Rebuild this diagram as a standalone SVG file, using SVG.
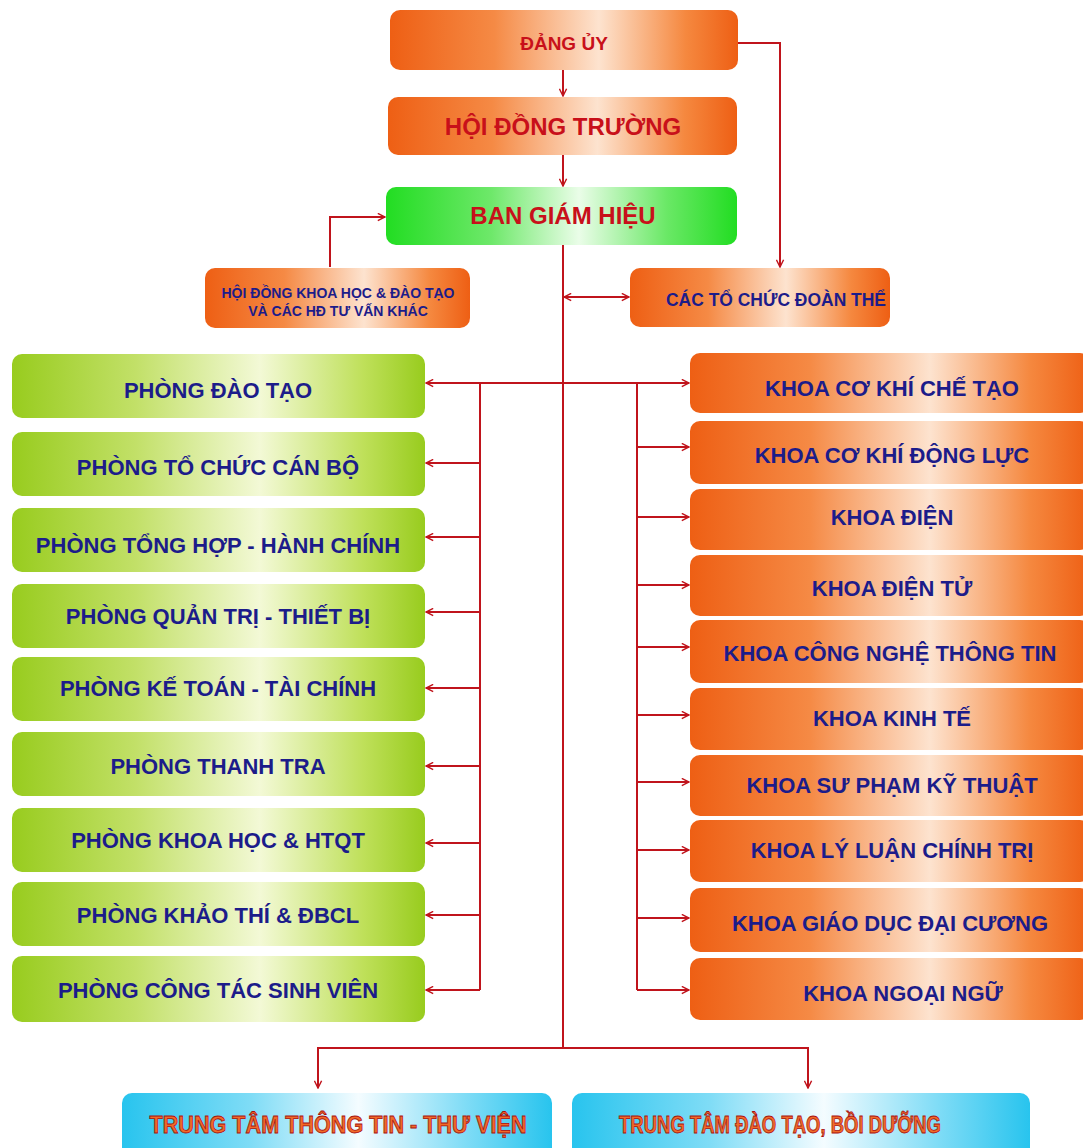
<svg xmlns="http://www.w3.org/2000/svg" width="1083" height="1148" viewBox="0 0 1083 1148">
<defs>
<linearGradient id="gO" x1="0" y1="0" x2="1" y2="0">
<stop offset="0" stop-color="#ee5f14"/><stop offset="0.3" stop-color="#f58a45"/><stop offset="0.6" stop-color="#fde3cf"/><stop offset="0.85" stop-color="#f5883f"/><stop offset="1" stop-color="#ee5f14"/>
</linearGradient>
<linearGradient id="gG" x1="0" y1="0" x2="1" y2="0">
<stop offset="0" stop-color="#98cc1e"/><stop offset="0.3" stop-color="#c2e068"/><stop offset="0.6" stop-color="#f3f9d6"/><stop offset="0.85" stop-color="#bfe05a"/><stop offset="1" stop-color="#98cc1e"/>
</linearGradient>
<linearGradient id="gB" x1="0" y1="0" x2="1" y2="0">
<stop offset="0" stop-color="#22dd22"/><stop offset="0.3" stop-color="#6ee86a"/><stop offset="0.55" stop-color="#eafde8"/><stop offset="0.8" stop-color="#6ae866"/><stop offset="1" stop-color="#22dd22"/>
</linearGradient>
<linearGradient id="gC" x1="0" y1="0" x2="1" y2="0">
<stop offset="0" stop-color="#28c4ee"/><stop offset="0.3" stop-color="#7fdcf6"/><stop offset="0.55" stop-color="#f4fcff"/><stop offset="0.8" stop-color="#7fdcf6"/><stop offset="1" stop-color="#28c4ee"/>
</linearGradient>
<marker id="ah" viewBox="0 0 10 10" refX="9" refY="5" markerWidth="9" markerHeight="9" markerUnits="userSpaceOnUse" orient="auto-start-reverse">
<path d="M1,1 L9,5 L1,9" fill="none" stroke="#c0141c" stroke-width="1.6"/>
</marker>
</defs>
<style>
.o{fill:url(#gO)}
.g{fill:url(#gG)}
.b{fill:url(#gB)}
.c{fill:url(#gC)}
rect{stroke:none}
text{font-family:"Liberation Sans",Arial,sans-serif;font-weight:bold;text-anchor:middle}
.t1{fill:#c8101a;font-size:24px}
.t2{fill:#1c1c8a;font-size:22px}
.t3{fill:#1c1c8a;font-size:14px}
.t4{fill:#f06a28;stroke:#a81010;stroke-width:0.8;font-size:24px}
.ln{fill:none;stroke:#c0141c;stroke-width:2}
.ar{marker-end:url(#ah)}
.ar2{marker-start:url(#ah);marker-end:url(#ah)}
</style>
<rect width="1083" height="1148" fill="#ffffff"/>

<g id="connectors">
<path class="ln ar" d="M563,70 V96"/>
<path class="ln ar" d="M563,155 V186"/>
<path class="ln ar" d="M738,43 H780 V267"/>
<path class="ln ar" d="M330,267 V217 H385"/>
<path class="ln" d="M563,245 V1048"/>
<path class="ln ar2" d="M564,297 H629"/>
<path class="ln ar" d="M563,383 H426"/>
<path class="ln ar" d="M563,383 H689"/>
<path class="ln" d="M480,383 V990"/>
<path class="ln ar" d="M480,463 H426"/>
<path class="ln ar" d="M480,537 H426"/>
<path class="ln ar" d="M480,612 H426"/>
<path class="ln ar" d="M480,688 H426"/>
<path class="ln ar" d="M480,766 H426"/>
<path class="ln ar" d="M480,843 H426"/>
<path class="ln ar" d="M480,915 H426"/>
<path class="ln ar" d="M480,990 H426"/>
<path class="ln" d="M637,383 V990"/>
<path class="ln ar" d="M637,447 H689"/>
<path class="ln ar" d="M637,517 H689"/>
<path class="ln ar" d="M637,585 H689"/>
<path class="ln ar" d="M637,647 H689"/>
<path class="ln ar" d="M637,715 H689"/>
<path class="ln ar" d="M637,782 H689"/>
<path class="ln ar" d="M637,850 H689"/>
<path class="ln ar" d="M637,918 H689"/>
<path class="ln ar" d="M637,990 H689"/>
<path class="ln ar" d="M563,1048 H318 V1088"/>
<path class="ln ar" d="M563,1048 H808 V1088"/>
</g>

<g id="dang-uy"><rect class="o" x="390" y="10" width="348" height="60" rx="10"/><text class="t1" x="564" y="50" style="font-size:19px">ĐẢNG ỦY</text></g>
<g id="hoi-dong-truong"><rect class="o" x="388" y="97" width="349" height="58" rx="10"/><text class="t1" x="563" y="135">HỘI ĐỒNG TRƯỜNG</text></g>
<g id="ban-giam-hieu"><rect class="b" x="386" y="187" width="351" height="58" rx="10"/><text class="t1" x="563" y="224">BAN GIÁM HIỆU</text></g>
<g id="hoi-dong-khoa-hoc"><rect class="o" x="205" y="268" width="265" height="60" rx="10"/><text class="t3" x="338" y="298" textLength="233" lengthAdjust="spacingAndGlyphs">HỘI ĐỒNG KHOA HỌC &amp; ĐÀO TẠO</text><text class="t3" x="338" y="316">VÀ CÁC HĐ TƯ VẤN KHÁC</text></g>
<g id="cac-to-chuc"><rect class="o" x="630" y="268" width="260" height="59" rx="10"/><text class="t3" x="776" y="306" style="font-size:19px" textLength="220" lengthAdjust="spacingAndGlyphs">CÁC TỔ CHỨC ĐOÀN THỂ</text></g>

<g id="phong-dao-tao"><rect class="g" x="12" y="354" width="413" height="64" rx="10"/><text class="t2" x="218" y="398">PHÒNG ĐÀO TẠO</text></g>
<g id="phong-to-chuc"><rect class="g" x="12" y="432" width="413" height="64" rx="10"/><text class="t2" x="218" y="475">PHÒNG TỔ CHỨC CÁN BỘ</text></g>
<g id="phong-tong-hop"><rect class="g" x="12" y="508" width="413" height="64" rx="10"/><text class="t2" x="218" y="553">PHÒNG TỔNG HỢP - HÀNH CHÍNH</text></g>
<g id="phong-quan-tri"><rect class="g" x="12" y="584" width="413" height="64" rx="10"/><text class="t2" x="218" y="624">PHÒNG QUẢN TRỊ - THIẾT BỊ</text></g>
<g id="phong-ke-toan"><rect class="g" x="12" y="657" width="413" height="64" rx="10"/><text class="t2" x="218" y="696">PHÒNG KẾ TOÁN - TÀI CHÍNH</text></g>
<g id="phong-thanh-tra"><rect class="g" x="12" y="732" width="413" height="64" rx="10"/><text class="t2" x="218" y="774">PHÒNG THANH TRA</text></g>
<g id="phong-khoa-hoc"><rect class="g" x="12" y="808" width="413" height="64" rx="10"/><text class="t2" x="218" y="848">PHÒNG KHOA HỌC &amp; HTQT</text></g>
<g id="phong-khao-thi"><rect class="g" x="12" y="882" width="413" height="64" rx="10"/><text class="t2" x="218" y="923">PHÒNG KHẢO THÍ &amp; ĐBCL</text></g>
<g id="phong-cong-tac"><rect class="g" x="12" y="956" width="413" height="66" rx="10"/><text class="t2" x="218" y="998">PHÒNG CÔNG TÁC SINH VIÊN</text></g>

<g id="khoa-co-khi-che-tao"><rect class="o" x="690" y="353" width="400" height="60" rx="10"/><text class="t2" x="892" y="396">KHOA CƠ KHÍ CHẾ TẠO</text></g>
<g id="khoa-co-khi-dong-luc"><rect class="o" x="690" y="421" width="400" height="63" rx="10"/><text class="t2" x="892" y="463">KHOA CƠ KHÍ ĐỘNG LỰC</text></g>
<g id="khoa-dien"><rect class="o" x="690" y="489" width="400" height="61" rx="10"/><text class="t2" x="892" y="525">KHOA ĐIỆN</text></g>
<g id="khoa-dien-tu"><rect class="o" x="690" y="555" width="400" height="61" rx="10"/><text class="t2" x="892" y="596">KHOA ĐIỆN TỬ</text></g>
<g id="khoa-cntt"><rect class="o" x="690" y="620" width="400" height="63" rx="10"/><text class="t2" x="890" y="661">KHOA CÔNG NGHỆ THÔNG TIN</text></g>
<g id="khoa-kinh-te"><rect class="o" x="690" y="688" width="400" height="62" rx="10"/><text class="t2" x="892" y="726">KHOA KINH TẾ</text></g>
<g id="khoa-su-pham"><rect class="o" x="690" y="755" width="400" height="61" rx="10"/><text class="t2" x="892" y="793">KHOA SƯ PHẠM KỸ THUẬT</text></g>
<g id="khoa-ly-luan"><rect class="o" x="690" y="820" width="400" height="62" rx="10"/><text class="t2" x="892" y="858">KHOA LÝ LUẬN CHÍNH TRỊ</text></g>
<g id="khoa-giao-duc"><rect class="o" x="690" y="888" width="400" height="64" rx="10"/><text class="t2" x="890" y="931">KHOA GIÁO DỤC ĐẠI CƯƠNG</text></g>
<g id="khoa-ngoai-ngu"><rect class="o" x="690" y="958" width="400" height="62" rx="10"/><text class="t2" x="903" y="1001">KHOA NGOẠI NGỮ</text></g>

<g id="trung-tam-thong-tin"><rect class="c" x="122" y="1093" width="430" height="70" rx="10"/><text class="t4" x="338" y="1133" textLength="377" lengthAdjust="spacingAndGlyphs">TRUNG TÂM THÔNG TIN - THƯ VIỆN</text></g>
<g id="trung-tam-dao-tao"><rect class="c" x="572" y="1093" width="458" height="70" rx="10"/><text class="t4" x="780" y="1133" textLength="322" lengthAdjust="spacingAndGlyphs">TRUNG TÂM ĐÀO TẠO, BỒI DƯỠNG</text></g>
</svg>
